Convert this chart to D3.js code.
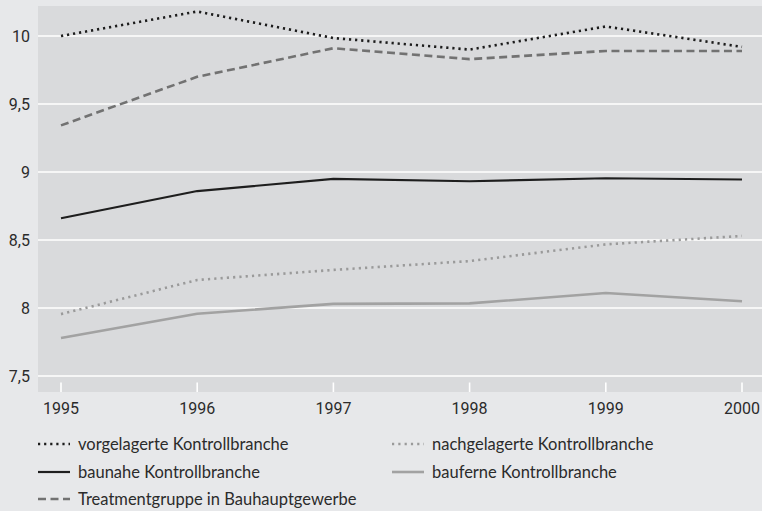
<!DOCTYPE html>
<html>
<head>
<meta charset="utf-8">
<script src="https://cdn.jsdelivr.net/npm/d3@7"></script>
<style>
  html, body { margin: 0; padding: 0; background: #e7e8ea; }
  svg { display: block; }
  .tick-label { font-family: Roboto, "Liberation Sans", sans-serif; font-size: 16px; fill: #2b2b2b; }
  .legend-label { font-family: Lato, "Open Sans", sans-serif; font-size: 16.5px; fill: #2b2b2b; }
</style>
</head>
<body>
<svg id="chart" width="762" height="511"></svg>
<script>
// Years on the x axis
const years = [1995, 1996, 1997, 1998, 1999, 2000];

// One value per year for each branch
const vorgelagert   = [10.00, 10.18, 9.985, 9.90, 10.07, 9.92];
const nachgelagert  = [7.955, 8.206, 8.28, 8.345, 8.468, 8.53];
const baunah        = [8.66, 8.86, 8.949, 8.932, 8.954, 8.945];
const baufern       = [7.78, 7.958, 8.03, 8.034, 8.11, 8.05];
const treatment     = [9.343, 9.70, 9.91, 9.83, 9.89, 9.89];

// Value axis ticks and their printed labels
const yTicks = [7.5, 8, 8.5, 9, 9.5, 10];
const yTickLabels = ["7,5", "8", "8,5", "9", "9,5", "10"];

const seriesNames = [
  "vorgelagerte Kontrollbranche",
  "nachgelagerte Kontrollbranche",
  "baunahe Kontrollbranche",
  "bauferne Kontrollbranche",
  "Treatmentgruppe in Bauhauptgewerbe"
];

const series = [
  { name: seriesNames[0], values: vorgelagert,  color: "#1c1c1c", width: 2.6, dash: "2.2,3.9" },
  { name: seriesNames[1], values: nachgelagert, color: "#9a9a9a", width: 2.6, dash: "2.2,4.1" },
  { name: seriesNames[2], values: baunah,       color: "#1e1e1e", width: 2.2, dash: null },
  { name: seriesNames[3], values: baufern,      color: "#a2a2a2", width: 2.6, dash: null },
  { name: seriesNames[4], values: treatment,    color: "#727272", width: 2.6, dash: "8,4.5" }
];

const svg = d3.select("#chart");
const plot = { left: 38, top: 6, right: 762, bottom: 392 };

const x = d3.scalePoint()
  .domain(years)
  .range([61, 742]);

const y = d3.scaleLinear()
  .domain([7.5, 10])
  .range([376, 36]);

// Plot panel
svg.append("rect")
  .attr("x", plot.left).attr("y", plot.top)
  .attr("width", plot.right - plot.left)
  .attr("height", plot.bottom - plot.top)
  .attr("fill", "#d9dadc");

// Horizontal gridlines
svg.append("g").selectAll("line")
  .data(yTicks)
  .join("line")
  .attr("x1", plot.left).attr("x2", plot.right)
  .attr("y1", d => y(d)).attr("y2", d => y(d))
  .attr("stroke", "#ffffff").attr("stroke-width", 1.6);

// Y tick labels
svg.append("g").selectAll("text")
  .data(yTicks)
  .join("text")
  .attr("class", "tick-label")
  .attr("x", 30)
  .attr("y", d => y(d))
  .attr("dy", "0.36em")
  .attr("text-anchor", "end")
  .text((d, i) => yTickLabels[i]);

// Small white ticks at the bottom of the panel
svg.append("g").selectAll("line")
  .data(years)
  .join("line")
  .attr("x1", d => x(d)).attr("x2", d => x(d))
  .attr("y1", 382.5).attr("y2", plot.bottom)
  .attr("stroke", "#ffffff").attr("stroke-width", 1.6);

// X tick labels
svg.append("g").selectAll("text")
  .data(years)
  .join("text")
  .attr("class", "tick-label")
  .attr("x", d => x(d))
  .attr("y", 408)
  .attr("dy", "0.36em")
  .attr("text-anchor", "middle")
  .text(d => d);

// Lines
const line = d3.line()
  .x((d, i) => x(years[i]))
  .y(d => y(d));

const drawOrder = [3, 1, 2, 4, 0];
svg.append("g").selectAll("path")
  .data(drawOrder.map(i => series[i]))
  .join("path")
  .attr("d", d => line(d.values))
  .attr("fill", "none")
  .attr("stroke", d => d.color)
  .attr("stroke-width", d => d.width)
  .attr("stroke-dasharray", d => d.dash)
  .attr("stroke-linejoin", "round");

// Legend: two columns
const legendPos = [
  { x: 38,  y: 444 },
  { x: 392, y: 444 },
  { x: 38,  y: 472 },
  { x: 392, y: 472 },
  { x: 38,  y: 499 }
];

const legend = svg.append("g").selectAll("g")
  .data(series)
  .join("g")
  .attr("transform", (d, i) => `translate(${legendPos[i].x},${legendPos[i].y})`);

legend.append("line")
  .attr("x1", 0).attr("x2", 32)
  .attr("y1", 0).attr("y2", 0)
  .attr("stroke", d => d.color)
  .attr("stroke-width", d => d.width)
  .attr("stroke-dasharray", d => d.dash);

legend.append("text")
  .attr("class", "legend-label")
  .attr("x", 40)
  .attr("y", 0)
  .attr("dy", "0.36em")
  .text(d => d.name);
</script>
</body>
</html>
